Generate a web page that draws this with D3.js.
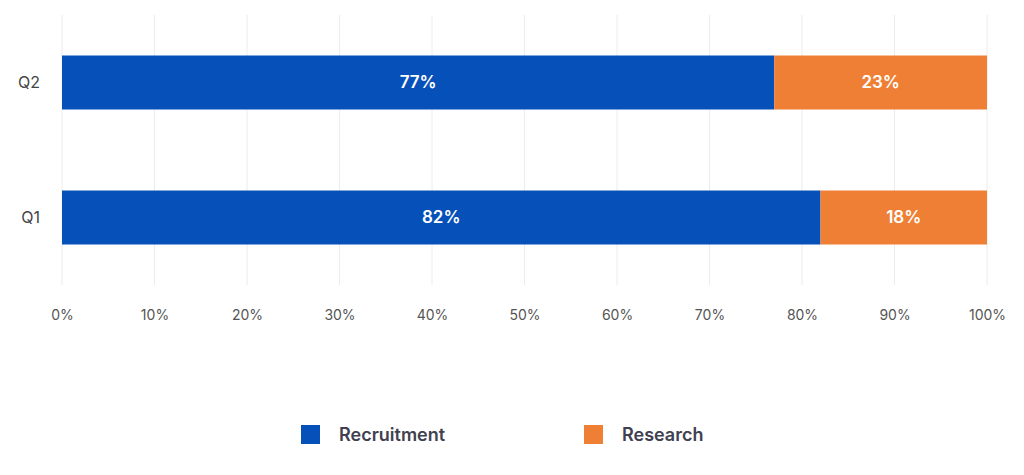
<!DOCTYPE html>
<html lang="en">
<head>
<meta charset="UTF-8"/>
<script src="https://d3js.org/d3.v7.min.js"></script>
<style>
  body { margin: 0; background: #fff; font-family: Inter, "Open Sans", sans-serif; }
</style>
</head>
<body>
<script>
    var quarters = ["Q2", "Q1"];
    var seriesNames = ["Recruitment", "Research"];
    var recruitment = [77, 82];
    var research = [23, 18];
    var xTicks = [0, 10, 20, 30, 40, 50, 60, 70, 80, 90, 100];
    var colors = ["#0650b9", "#ee7f34"];

    var w = 1024, h = 475;

    var svg = d3.select("body").append("svg")
        .attr("width", w)
        .attr("height", h);

    var xScale = d3.scaleLinear().domain([0, 100]).range([62, 987]);
    var yScale = d3.scaleBand().domain(quarters).range([15, 285]).paddingInner(0.6).paddingOuter(0.3);

    // gridlines
    svg.selectAll("line.grid")
        .data(xTicks)
        .enter()
        .append("line")
        .attr("x1", function(d) { return xScale(d); })
        .attr("x2", function(d) { return xScale(d); })
        .attr("y1", 15)
        .attr("y2", 285)
        .attr("stroke", "#ececec")
        .attr("stroke-width", 1);

    // stacked bars
    var rows = quarters.map(function(q, i) {
        return [
            { q: q, x0: 0, x1: recruitment[i], v: recruitment[i], c: 0 },
            { q: q, x0: recruitment[i], x1: recruitment[i] + research[i], v: research[i], c: 1 }
        ];
    }).flat();

    svg.selectAll("rect.bar")
        .data(rows)
        .enter()
        .append("rect")
        .attr("x", function(d) { return xScale(d.x0); })
        .attr("width", function(d) { return xScale(d.x1) - xScale(d.x0); })
        .attr("y", function(d) { return yScale(d.q); })
        .attr("height", yScale.bandwidth())
        .attr("fill", function(d) { return colors[d.c]; });

    svg.selectAll("text.val")
        .data(rows)
        .enter()
        .append("text")
        .attr("x", function(d) { return (xScale(d.x0) + xScale(d.x1)) / 2; })
        .attr("y", function(d) { return yScale(d.q) + yScale.bandwidth() / 2; })
        .attr("dy", "0.35em")
        .attr("text-anchor", "middle")
        .attr("fill", "#fff")
        .attr("font-size", "17px")
        .attr("font-weight", 600)
        .text(function(d) { return d.v + "%"; });

    // axes
    var xAxis = d3.axisBottom(xScale).tickValues(xTicks).tickSize(0).tickPadding(18)
        .tickFormat(function(d) { return d + "%"; });
    var gx = svg.append("g").attr("transform", "translate(0,292)").call(xAxis);
    gx.select(".domain").remove();
    gx.selectAll("text").attr("font-size", "14px").attr("fill", "#555").attr("font-family", "Inter, sans-serif");

    var yAxis = d3.axisLeft(yScale).tickSize(0).tickPadding(22);
    var gy = svg.append("g").attr("transform", "translate(62,0)").call(yAxis);
    gy.select(".domain").remove();
    gy.selectAll("text").attr("font-size", "16px").attr("fill", "#444").attr("font-family", "Inter, sans-serif");

    // legend
    var legendX = [301, 584];
    var legend = svg.selectAll("g.legend")
        .data(seriesNames)
        .enter()
        .append("g")
        .attr("transform", function(d, i) { return "translate(" + legendX[i] + ",425)"; });
    legend.append("rect").attr("width", 19).attr("height", 19)
        .attr("fill", function(d, i) { return colors[i]; });
    legend.append("text").attr("x", 38).attr("y", 10).attr("dy", "0.35em")
        .attr("font-size", "18px").attr("font-weight", 600).attr("fill", "#3f4150")
        .text(function(d) { return d; });
</script>
</body>
</html>
